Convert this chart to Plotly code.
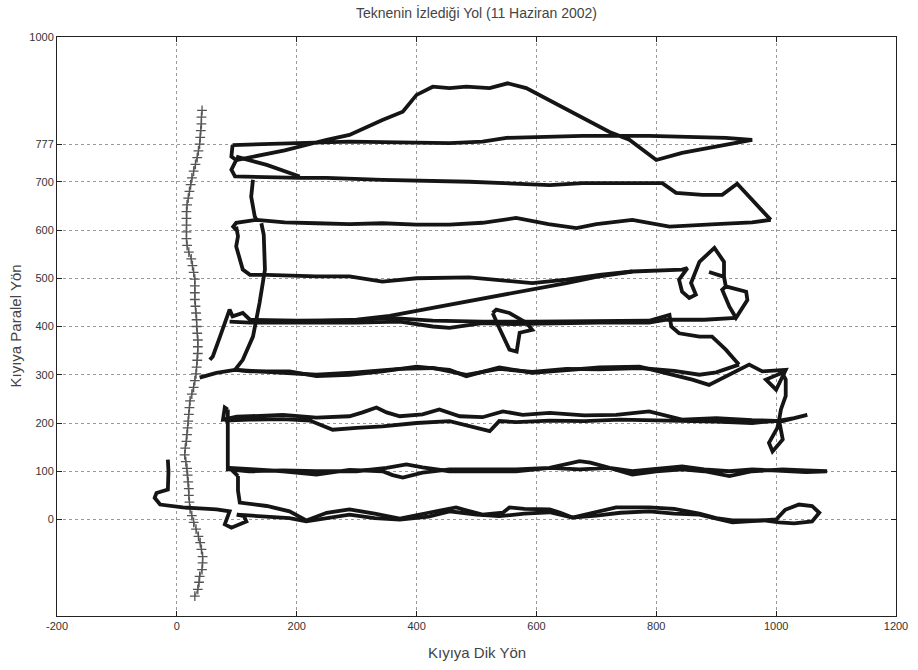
import plotly.graph_objects as go

# ---------------- data ----------------
x_tickvals = [-200, 0, 200, 400, 600, 800, 1000, 1200]
x_ticktext = ["-200", "0", "200", "400", "600", "800", "1000", "1200"]
y_tickvals = [0, 100, 200, 300, 400, 500, 600, 700, 777, 1000]
y_ticktext = ["0", "100", "200", "300", "400", "500", "600", "700", "777", "1000"]

# shoreline (+ markers)
shore_y = [-159, -145, -130, -118, -104, -90, -77, -62, -48, -35, -20, -6, 8, 22, 36, 50, 64, 78, 92,
           106, 120, 134, 148, 162, 176, 190, 204, 218, 232, 246, 260, 274, 288, 302, 316, 330, 344,
           358, 372, 386, 400, 414, 428, 442, 456, 470, 484, 498, 512, 526, 540, 554, 568, 582, 596,
           610, 624, 638, 652, 666, 680, 694, 708, 722, 736, 750, 764, 778, 792, 806, 820, 834, 848]
shore_x = [30, 35, 37, 38, 42, 43, 43, 41, 39, 36, 32, 28, 25, 22, 21, 20, 20, 19, 18,
           17, 15, 13, 14, 16, 17, 18, 19, 20, 21, 22, 25, 28, 30, 32, 33, 34, 35,
           35, 35, 34, 33, 33, 32, 31, 30, 30, 30, 30, 28, 26, 24, 20, 17, 16, 16,
           16, 16, 16, 17, 19, 21, 23, 25, 28, 31, 34, 36, 38, 39, 40, 41, 41, 42]

# boat track legs (x, y)
seg_start = [(-15, 124), (-14, 100), (-15, 62), (-25, 58), (-34, 55), (-37, 45), (-28, 31), (10, 25),
             (40, 23), (66, 21), (88, 17), (80, -10), (91, -17), (105, -10), (116, -4), (112, 7), (100, 10)]
seg_0_out = [(100, 10), (150, 6), (188, 3), (216, -4), (250, 3), (288, 10), (330, 3), (372, 0), (420, 6),
             (455, 17), (500, 10), (538, 7), (580, 12), (622, 15), (660, 4), (700, 8), (740, 14), (788, 17),
             (830, 12), (872, 10), (927, -6), (1000, 0), (1015, 20), (1038, 31), (1060, 28), (1072, 14),
             (1060, -4), (1030, -8), (1005, -6), (980, -2)]
seg_0_back = [(980, -2), (927, -2), (900, 3), (872, 12), (830, 22), (788, 25), (733, 25), (700, 15),
              (660, 4), (640, 14), (622, 21), (580, 22), (555, 25), (544, 14), (510, 10), (480, 20),
              (466, 25), (420, 14), (372, 2), (330, 12), (288, 21), (250, 14), (216, -2), (188, 17),
              (150, 28), (105, 35), (102, 60), (102, 90)]
seg_100 = [(102, 90), (88, 107), (130, 104), (177, 100), (233, 93), (288, 103), (343, 100), (360, 92),
           (377, 87), (410, 97), (455, 104), (510, 104), (566, 104), (622, 107), (672, 104), (722, 107),
           (760, 93), (800, 100), (843, 104), (880, 100), (922, 90), (960, 100), (1011, 104), (1050, 102),
           (1085, 100), (1050, 98), (1011, 100), (960, 104), (922, 100), (880, 104), (843, 110), (800, 104),
           (760, 100), (722, 107), (690, 118), (672, 121), (650, 114), (622, 107), (566, 100), (510, 100),
           (455, 100), (410, 108), (383, 114), (350, 107), (300, 100), (233, 100), (177, 102), (120, 100),
           (85, 104), (85, 160), (85, 228)]
seg_200 = [(85, 228), (80, 232), (77, 207), (100, 213), (122, 214), (177, 217), (233, 211), (288, 214),
           (310, 222), (333, 232), (350, 222), (372, 214), (410, 218), (438, 228), (472, 214), (510, 212),
           (544, 224), (577, 217), (622, 221), (680, 216), (733, 217), (788, 224), (843, 207), (900, 210),
           (960, 206), (1011, 204), (1052, 217), (1030, 210), (1005, 205), (960, 200), (900, 203),
           (843, 204), (794, 205), (740, 207), (680, 204), (622, 205), (566, 202), (538, 204), (522, 183),
           (500, 190), (483, 197), (455, 204), (400, 200), (343, 193), (300, 190), (260, 186), (222, 205),
           (177, 208), (122, 207), (80, 205)]
seg_300_out = [(38, 294), (55, 300), (66, 304), (97, 310), (122, 307), (188, 307), (233, 297), (288, 300),
               (343, 307), (400, 317), (455, 310), (483, 297), (505, 304), (538, 315), (593, 304),
               (650, 310), (705, 315), (772, 317), (816, 304), (860, 290), (888, 279), (927, 304),
               (955, 321), (977, 307), (1016, 310), (1000, 269), (983, 290), (1010, 304), (1016, 290),
               (1016, 256), (1008, 228), (1005, 207), (1002, 190), (988, 159), (994, 141), (1011, 166),
               (1008, 186), (1005, 205)]
seg_300_back = [(938, 321), (900, 305), (872, 300), (830, 308), (772, 314), (705, 311), (650, 312),
                (593, 306), (538, 312), (483, 300), (427, 314), (372, 312), (300, 305), (233, 300),
                (150, 306), (97, 310), (110, 331), (127, 379), (138, 449), (147, 518), (145, 590), (141, 614)]
seg_400 = [(55, 331), (60, 338), (72, 379), (88, 435), (93, 421), (110, 428), (122, 414), (200, 412),
           (300, 413), (355, 418), (427, 412), (510, 410), (593, 410), (705, 412), (788, 412), (822, 424),
           (825, 400), (838, 386), (872, 379), (893, 379), (916, 352), (933, 328), (938, 321)]
seg_400_back = [(933, 418), (880, 414), (817, 414), (788, 408), (705, 408), (593, 407), (560, 405),
                (510, 407), (455, 397), (427, 400), (372, 410), (300, 408), (200, 408), (122, 408), (88, 410)]
seg_400_loop = [(527, 428), (533, 435), (555, 428), (583, 408), (593, 393), (572, 387), (567, 348),
                (555, 352), (538, 397), (527, 428)]
seg_diag = [(230, 411), (300, 414), (355, 422), (420, 437), (488, 451), (550, 466), (622, 483),
            (650, 490), (700, 503), (760, 514)]
seg_500 = [(99, 607), (102, 587), (99, 566), (110, 518), (122, 507), (150, 507), (233, 504), (288, 504),
           (343, 493), (400, 500), (488, 502), (593, 490), (650, 497), (705, 507), (760, 514), (843, 518),
           (852, 521), (838, 497), (843, 472), (855, 459), (866, 466), (858, 490), (872, 534), (897, 563),
           (913, 534), (913, 503), (888, 513), (913, 503), (916, 483), (950, 472), (952, 455), (938, 428),
           (933, 418), (922, 441), (910, 476), (916, 483)]
seg_600 = [(991, 621), (960, 616), (900, 612), (822, 607), (760, 621), (700, 612), (667, 604), (620, 612),
           (566, 625), (510, 615), (455, 611), (400, 611), (343, 614), (288, 612), (233, 614), (180, 616),
           (133, 621), (99, 615), (94, 607), (99, 600)]
seg_700 = [(93, 776), (91, 752), (99, 745), (91, 725), (97, 711), (150, 709), (205, 708), (250, 708),
           (343, 704), (488, 700), (566, 697), (622, 693), (677, 697), (788, 698), (810, 697), (833, 677),
           (877, 673), (910, 673), (935, 696), (991, 621)]
seg_cross = [(99, 752), (150, 735), (205, 711)]
seg_link = [(127, 704), (124, 669), (130, 628), (133, 621)]
seg_hump = [(99, 745), (180, 765), (250, 787), (288, 797), (343, 828), (377, 845), (400, 880), (427, 897),
            (455, 894), (483, 897), (522, 894), (552, 904), (583, 894), (622, 869), (677, 832), (722, 803),
            (755, 787), (800, 745), (843, 760), (916, 776), (960, 787), (916, 791), (788, 795), (677, 795),
            (550, 791), (510, 783), (455, 780), (288, 783), (177, 780), (93, 776)]

legs = [seg_start, seg_0_out, seg_0_back, seg_100, seg_200, seg_300_out, seg_300_back, seg_400,
        seg_400_back, seg_400_loop, seg_diag, seg_500, seg_600, seg_700, seg_cross, seg_link, seg_hump]

path_x, path_y = [], []
for leg in legs:
    path_x += [p[0] for p in leg] + [None]
    path_y += [p[1] for p in leg] + [None]

# ---------------- figure ----------------
FONT = "Liberation Sans, Arial, sans-serif"
fig = go.Figure()
fig.add_trace(go.Scatter(
    x=shore_x, y=shore_y, mode="lines+markers",
    line=dict(color="#777777", width=1.3),
    marker=dict(symbol="cross-thin", size=7, line=dict(color="#555555", width=1.3)),
    hoverinfo="skip", showlegend=False))
fig.add_trace(go.Scatter(
    x=path_x, y=path_y, mode="lines", connectgaps=False,
    line=dict(color="#151515", width=3.8),
    hoverinfo="skip", showlegend=False))

axis_common = dict(
    showgrid=True, gridcolor="#9a9a9a", griddash="dot", gridwidth=1,
    showline=True, linecolor="#222222", linewidth=1, mirror="ticks",
    ticks="inside", ticklen=5, tickcolor="#222222", zeroline=False, automargin=False,
    tickfont=dict(family=FONT, size=11, color="#333333"),
)
fig.update_xaxes(range=[-200, 1200], tickmode="array", tickvals=x_tickvals, ticktext=x_ticktext,
                 **axis_common)
fig.update_yaxes(range=[-200, 1000], tickmode="array", tickvals=y_tickvals, ticktext=y_ticktext,
                 **axis_common)

fig.update_layout(
    width=918, height=670,
    margin=dict(l=57, r=22, t=37, b=54),
    paper_bgcolor="white", plot_bgcolor="white",
    hovermode=False,
    title=dict(text="Teknenin İzlediği Yol (11 Haziran 2002)", x=0.5, xref="paper",
               y=1 - 13 / 670, yref="container", yanchor="middle", xanchor="center",
               font=dict(family=FONT, size=14, color="#444444")),
    annotations=[
        dict(text="Kıyıya Dik Yön", xref="paper", yref="paper", x=0.5, y=-36 / 579,
             xanchor="center", yanchor="middle", showarrow=False,
             font=dict(family=FONT, size=15, color="#444444")),
        dict(text="Kıyıya Paralel Yön", xref="paper", yref="paper", x=-42 / 839, y=0.5,
             xanchor="center", yanchor="middle", textangle=-90, showarrow=False,
             font=dict(family=FONT, size=15, color="#444444")),
    ],
)

fig.write_html("out.html", config={"displayModeBar": False},
               post_script="document.body.style.margin='0px';")
